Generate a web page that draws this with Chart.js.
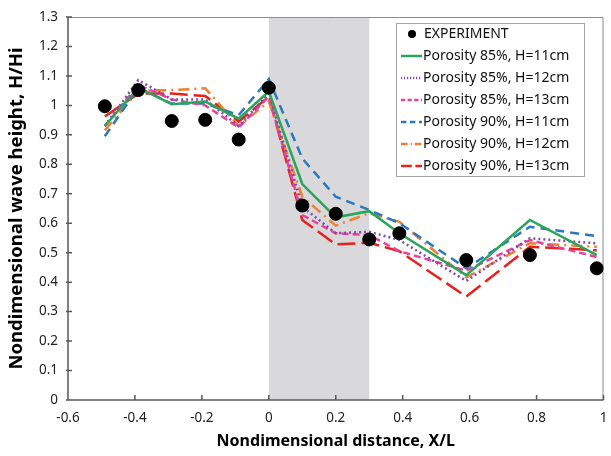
<!DOCTYPE html>
<html>
<head>
<meta charset="utf-8">
<script src="https://cdn.jsdelivr.net/npm/chart.js@4.4.1/dist/chart.umd.min.js"></script>
<style>
  html, body { margin: 0; padding: 0; background: #fff; }
  #wrap { width: 611px; height: 456px; }
</style>
</head>
<body>
<div id="wrap"><canvas id="waveChart" width="611" height="456"></canvas></div>
<script>
// positions along the structure (X/L)
const xPos = [-0.49, -0.39, -0.29, -0.19, -0.09, 0, 0.1, 0.2, 0.3, 0.39, 0.59, 0.78, 0.98];

const experiment = [0.997, 1.052, 0.947, 0.951, 0.884, 1.06, 0.66, 0.632, 0.545, 0.566, 0.475, 0.492, 0.447];
const p85h11 = [0.93, 1.06, 1.004, 1.013, 0.955, 1.047, 0.733, 0.62, 0.641, 0.566, 0.424, 0.611, 0.492];
const p85h12 = [0.93, 1.086, 1.02, 1.02, 0.93, 1.04, 0.656, 0.566, 0.571, 0.543, 0.404, 0.549, 0.532];
const p85h13 = [0.93, 1.07, 1.02, 1.0, 0.925, 1.03, 0.628, 0.566, 0.56, 0.505, 0.439, 0.543, 0.485];
const p90h11 = [0.895, 1.06, 1.006, 1.006, 0.967, 1.089, 0.82, 0.69, 0.645, 0.6, 0.447, 0.588, 0.556];
const p90h12 = [0.915, 1.05, 1.052, 1.058, 0.93, 1.013, 0.69, 0.592, 0.634, 0.605, 0.416, 0.532, 0.52];
const p90h13 = [0.962, 1.04, 1.04, 1.032, 0.945, 1.03, 0.611, 0.528, 0.534, 0.505, 0.351, 0.52, 0.508];

const seriesNames = ['EXPERIMENT', 'Porosity 85%, H=11cm', 'Porosity 85%, H=12cm', 'Porosity 85%, H=13cm',
  'Porosity 90%, H=11cm', 'Porosity 90%, H=12cm', 'Porosity 90%, H=13cm'];

const xTicks = [-0.6, -0.4, -0.2, 0, 0.2, 0.4, 0.6, 0.8, 1];
const barrierFrom = 0, barrierTo = 0.3;

const FONT = "'Noto Sans', sans-serif";

function pts(ys) {
  return ys.map((y, i) => ({x: xPos[i], y: y}));
}

function lineSet(label, ys, color, dash) {
  return {
    label: label,
    data: pts(ys),
    showLine: true,
    borderColor: color,
    backgroundColor: color,
    borderWidth: 2.5,
    borderDash: dash,
    pointRadius: 0,
    tension: 0
  };
}

// grey band + frame with inward ticks
const bandPlugin = {
  id: 'band',
  beforeDatasetsDraw(chart) {
    const {ctx, chartArea: a, scales: {x, y}} = chart;
    ctx.save();
    ctx.fillStyle = '#d9d8da';
    const x0 = x.getPixelForValue(barrierFrom), x1 = x.getPixelForValue(barrierTo);
    ctx.fillRect(x0, a.top, x1 - x0, a.bottom - a.top);

    ctx.strokeStyle = '#8c8c8c';
    ctx.lineWidth = 1;
    ctx.beginPath();
    ctx.moveTo(a.left, a.top + 0.5);
    ctx.lineTo(a.right - 0.5, a.top + 0.5);
    ctx.lineTo(a.right - 0.5, a.bottom);
    ctx.stroke();

    ctx.strokeStyle = '#595959';
    ctx.lineWidth = 1.5;
    ctx.beginPath();
    ctx.moveTo(a.left, a.top);
    ctx.lineTo(a.left, a.bottom);
    ctx.lineTo(a.right, a.bottom);
    // ticks
    y.ticks.forEach(t => {
      const py = y.getPixelForValue(t.value);
      ctx.moveTo(a.left - 2, py);
      ctx.lineTo(a.left + 4, py);
    });
    xTicks.forEach(v => {
      const px = x.getPixelForValue(v);
      ctx.moveTo(px, a.bottom);
      ctx.lineTo(px, a.bottom - 5);
    });
    ctx.stroke();
    ctx.restore();
  }
};

// boxed legend inside the plot
const legendPlugin = {
  id: 'boxLegend',
  afterDraw(chart) {
    const ctx = chart.ctx;
    const bx = 396, by = 23, bw = 188, bh = 153;
    ctx.save();
    ctx.fillStyle = '#fff';
    ctx.fillRect(bx, by, bw, bh);
    ctx.strokeStyle = '#a6a6a6';
    ctx.lineWidth = 1;
    ctx.strokeRect(bx + 0.5, by + 0.5, bw, bh);
    ctx.font = '14px ' + FONT;
    ctx.textBaseline = 'middle';
    chart.data.datasets.forEach((ds, i) => {
      const ly = by + 11 + i * 22;
      if (i === 0) {
        ctx.fillStyle = '#000';
        ctx.beginPath();
        ctx.arc(412, ly, 4, 0, Math.PI * 2);
        ctx.fill();
      } else {
        ctx.strokeStyle = ds.borderColor;
        ctx.lineWidth = 2.5;
        ctx.setLineDash(ds.borderDash.map(d => d * 0.6));
        ctx.beginPath();
        ctx.moveTo(401, ly);
        ctx.lineTo(422, ly);
        ctx.stroke();
        ctx.setLineDash([]);
      }
      ctx.fillStyle = '#111';
      ctx.fillText(ds.label, i === 0 ? 424 : 423, ly);
    });
    ctx.restore();
  }
};

const ctxWave = document.getElementById('waveChart');
const waveChart = new Chart(ctxWave, {
  type: 'scatter',
  data: {
    datasets: [
      {
        label: seriesNames[0],
        data: pts(experiment),
        showLine: false,
        backgroundColor: '#000',
        borderColor: '#000',
        pointRadius: 6.5,
        pointHoverRadius: 6.5
      },
      lineSet(seriesNames[1], p85h11, '#2aa55a', []),
      lineSet(seriesNames[2], p85h12, '#7e4cb0', [2, 3]),
      lineSet(seriesNames[3], p85h13, '#e8429a', [7, 4]),
      lineSet(seriesNames[4], p90h11, '#2a78bd', [9, 6]),
      lineSet(seriesNames[5], p90h12, '#ee8035', [11, 5, 2, 5]),
      lineSet(seriesNames[6], p90h13, '#e8201e', [18, 6])
    ]
  },
  options: {
    responsive: false,
    animation: false,
    layout: {padding: {top: 17, right: 6.5, left: 0, bottom: 0}},
    plugins: {
      legend: {display: false},
      tooltip: {enabled: false}
    },
    scales: {
      x: {
        type: 'linear',
        min: -0.6,
        max: 1,
        afterBuildTicks(scale) {
          scale.ticks = xTicks.map(v => ({value: v}));
        },
        afterFit(scale) {
          scale.height = 56;
          scale.paddingLeft = 0;
          scale.paddingRight = 0;
        },
        grid: {display: false, drawTicks: false},
        border: {display: false},
        ticks: {
          padding: 10,
          color: '#222',
          font: {family: FONT, size: 13.5},
          callback: v => String(Math.round(v * 10) / 10)
        },
        title: {
          display: true,
          text: 'Nondimensional distance, X/L',
          color: '#000',
          font: {family: FONT, size: 16, weight: 'bold'},
          padding: {top: 0, bottom: 5}
        }
      },
      y: {
        min: 0,
        max: 1.3,
        afterFit(scale) {
          scale.width = 68;
          scale.paddingTop = 0;
          scale.paddingBottom = 0;
        },
        grid: {display: false, drawTicks: false},
        border: {display: false},
        ticks: {
          stepSize: 0.1,
          padding: 10,
          color: '#222',
          font: {family: FONT, size: 13.5},
          callback: v => String(Math.round(v * 10) / 10)
        },
        title: {
          display: true,
          text: 'Nondimensional wave height, H/Hi',
          color: '#000',
          font: {family: FONT, size: 18.5, weight: 'bold'},
          padding: {top: 6, bottom: 0}
        }
      }
    }
  },
  plugins: [bandPlugin, legendPlugin]
});
</script>
</body>
</html>
